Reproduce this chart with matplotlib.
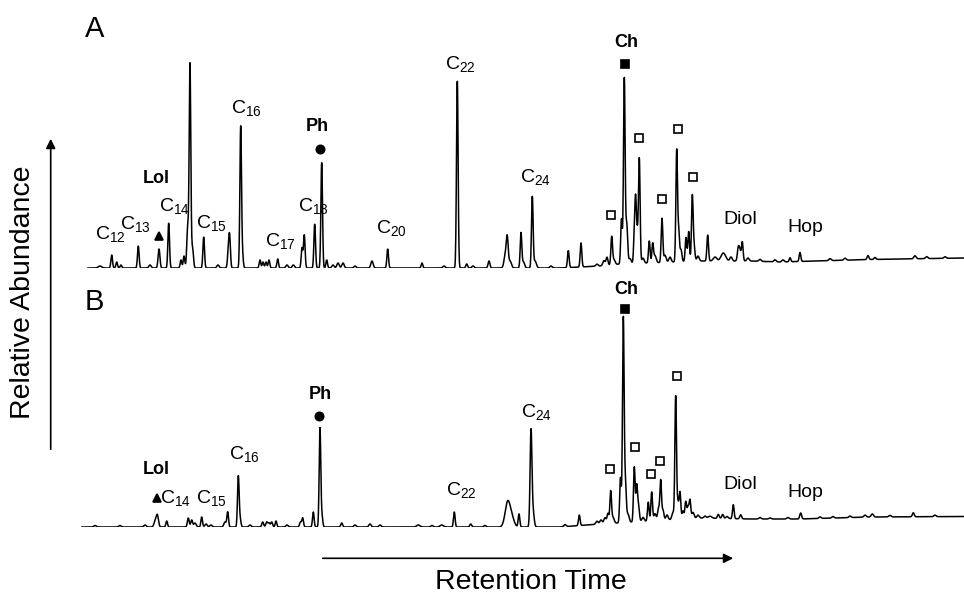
import numpy as np
import matplotlib
matplotlib.use("Agg")
import matplotlib.pyplot as plt

plt.rcParams['font.family'] = ['Liberation Sans', 'DejaVu Sans']

# chromatogram A: peak retention (a.u.), height, width
a_rt = [100, 111.7, 116.7, 121, 138.3, 150, 159, 168.7, 181, 184, 187.7, 190, 192.5,
        203.7, 218, 228.5, 229.7, 240.7, 242.5, 260, 263, 266, 269, 277.7, 287, 293.3,
        302, 304.3, 314.7, 321.7, 326.7, 333, 338, 343, 355, 372, 387.7, 422, 444,
        457.3, 466.7, 473, 489, 505.5, 507.3, 510, 521, 523.5, 532.3, 535, 551, 568.3,
        581, 597, 604, 607, 611.7, 614, 621.5, 624.3, 626.7, 630, 634.5, 635.7, 637.2,
        639.3, 643, 649.3, 652.7, 655, 662, 665, 670, 676.7, 678.7, 681, 686, 688.7,
        692.3, 694, 698, 707.7, 715, 723.3, 731, 738.3, 740, 742.3, 748, 760, 775, 783,
        790, 800, 830, 845, 868, 875, 915, 926.7, 945]
a_h = [2, 13, 6, 3, 22, 3, 19, 45, 8, 12, 40, 203, 20,
       31, 3, 18, 26, 142, 12, 8, 6, 6, 8, 9, 3, 3,
       20, 33, 44, 106, 8, 3, 5, 5, 2, 7, 19, 5, 2,
       188, 4, 2, 7, 14, 26, 7, 35, 6, 71, 7, 2, 17,
       24, 2, 5, 8, 28, 5, 45, 186, 40, 5, 35, 52, 30,
       105, 5, 22, 19, 7, 44, 7, 5, 112, 30, 12, 24, 30,
       64, 15, 5, 26, 4, 8, 4, 13, 10, 19, 3, 2, 2, 2,
       4, 9, 2, 2, 4, 2, 3, 2, 1.5]
a_w = [1.5, 0.7, 0.7, 0.7, 0.7, 1, 0.8, 0.7, 0.7, 0.7, 0.8, 0.7, 0.8,
       0.7, 1, 0.8, 0.7, 0.7, 0.7, 0.7, 0.7, 0.7, 0.7, 0.7, 1, 1,
       0.7, 0.7, 0.7, 0.7, 0.7, 1, 1, 1, 1, 1, 0.7, 0.7, 1,
       0.7, 0.8, 1, 0.8, 1.2, 0.8, 1.2, 0.7, 1, 0.7, 1.2, 1, 0.7,
       0.7, 1, 1, 0.8, 0.7, 1, 0.7, 0.7, 0.8, 1, 0.7, 0.6, 0.7,
       0.7, 1, 0.7, 0.7, 1, 0.7, 1, 1, 0.7, 0.7, 0.8, 0.7, 0.7,
       0.7, 0.8, 1, 0.7, 1.5, 2, 1, 0.8, 0.8, 0.7, 1, 1, 1, 1,
       0.7, 0.7, 1, 1, 0.8, 0.8, 1, 1, 1]
a_base_rt = [80, 560, 600, 620, 700, 750, 780, 870, 964]
a_base = [0, 0, 2, 4, 7, 7, 6, 8.5, 10]

# chromatogram B
b_rt = [95, 120, 145, 155, 157.3, 166.7, 188.3, 191.7, 195, 201.7, 206, 211, 225,
        227.7, 238.3, 240, 250, 262.7, 266.7, 269, 271.7, 276, 287, 300.5, 302.7,
        313.3, 320, 322, 341.7, 355, 370, 380, 418.3, 432, 441.7, 454.3, 470.7, 485,
        507.7, 512, 519, 531, 533, 565, 579.3, 597, 601, 605, 608, 610.7, 613, 620.5,
        623.3, 625.3, 628, 634.3, 636.7, 638.5, 643, 648.3, 651.7, 655, 658.5, 660.7,
        663, 667, 673, 675.7, 678, 680, 683, 685.7, 688, 690, 693, 698, 705, 710,
        718.3, 722.7, 727, 733.3, 740.7, 760, 770, 788, 800.7, 820, 833, 850, 865,
        872.3, 890, 913.3, 935]
b_h = [1.5, 1.5, 2, 5, 12, 6, 9, 7, 4, 10, 3, 2, 5,
       15, 50, 8, 2, 5, 5, 4, 5, 6, 2, 5, 9,
       15, 99, 10, 4, 2, 3, 2, 2, 1.5, 2, 15, 3, 1.5,
       25, 8, 13, 95, 15, 2, 10.5, 3, 4, 6, 10, 32, 6, 45,
       203, 40, 8, 55, 35, 16, 4, 19, 29, 7, 12, 40,
       10, 5, 7, 124, 16, 27, 8, 17, 12, 18, 6, 3, 2, 2,
       4, 4, 2, 14, 4, 1.5, 1, 1.5, 6, 1.5, 1.5, 1.5, 2,
       3, 1.5, 4, 1.5]
b_w = [1, 1, 1, 1, 1, 0.7, 0.8, 0.8, 1, 0.7, 1, 1, 1,
       0.7, 0.7, 0.8, 1, 0.8, 0.8, 0.8, 0.8, 0.7, 1, 0.8, 0.7,
       0.7, 0.7, 0.7, 0.8, 1, 1, 1, 1.5, 1, 1.5, 0.7, 0.8, 1,
       2.2, 2, 0.7, 0.8, 1, 1, 0.7, 1, 1, 1, 0.8, 0.7, 1, 0.7,
       0.7, 0.8, 1, 0.7, 0.7, 0.8, 1, 0.7, 0.7, 1, 0.8, 0.7,
       0.8, 1, 1, 0.7, 0.7, 0.7, 0.8, 0.7, 0.8, 0.7, 1, 1, 1, 1.5,
       0.8, 0.8, 1, 0.7, 0.8, 1, 1, 1, 0.8, 1, 1, 1, 1,
       1, 1, 0.8, 1]
b_base_rt = [80, 560, 600, 650, 700, 750, 800, 870, 964]
b_base = [0, 0, 3, 6, 9, 8, 8, 10, 10.5]

# labels: text, x, y (pixel-like units from the top), bold
a_labels = [(r'$\mathregular{C_{12}}$', 95, 239, False),
            (r'$\mathregular{C_{13}}$', 120, 229, False),
            ('Lol', 143, 183, True),
            (r'$\mathregular{C_{14}}$', 159, 211, False),
            (r'$\mathregular{C_{15}}$', 196, 228, False),
            (r'$\mathregular{C_{16}}$', 231, 112.5, False),
            ('Ph', 306, 131, True),
            (r'$\mathregular{C_{17}}$', 265, 246, False),
            (r'$\mathregular{C_{18}}$', 298, 211, False),
            (r'$\mathregular{C_{20}}$', 376, 232.5, False),
            (r'$\mathregular{C_{22}}$', 445, 69, False),
            (r'$\mathregular{C_{24}}$', 520, 182, False),
            ('Ch', 614, 47.3, True),
            ('Diol', 723, 224, False),
            ('Hop', 787, 232.5, False)]
b_labels = [('Lol', 143, 474, True),
            (r'$\mathregular{C_{14}}$', 160, 503, False),
            (r'$\mathregular{C_{15}}$', 196, 503, False),
            (r'$\mathregular{C_{16}}$', 229, 459, False),
            ('Ph', 309, 399, True),
            (r'$\mathregular{C_{22}}$', 446, 495, False),
            (r'$\mathregular{C_{24}}$', 521, 416.7, False),
            ('Ch', 614, 294, True),
            ('Diol', 723, 489, False),
            ('Hop', 787, 496.7, False)]

# compound markers: (x, y) for each class
a_tri = [(158.7, 236)]
a_dot = [(320, 149)]
a_sq = [(625, 64)]
a_osq = [(611, 215), (639, 137.7), (661.7, 199), (677.7, 129.3), (692.7, 176.7)]
b_tri = [(157.3, 498.3)]
b_dot = [(319.3, 415.7)]
b_sq = [(625, 309)]
b_osq = [(610.3, 469.3), (635, 446.7), (651, 474), (660, 460.7), (676.7, 376)]


def trace(x, rt, h, w, base_rt, base):
    y = np.interp(x, base_rt, base)
    for r, hh, ww in zip(rt, h, w):
        y = y + hh * np.exp(-0.5 * ((x - r) / (ww * 1.15)) ** 2)
    return y


W, H = 964, 597
fig = plt.figure(figsize=(9.64, 5.97), dpi=100)


def panel(base_px, x0, rt, h, w, brt, bb, labels, tri, dot, sq, osq):
    ax = fig.add_axes([0, (H - base_px) / H, 1, 260 / H])
    ax.set_xlim(0, W)
    ax.set_ylim(0, 260)
    ax.axis('off')
    x = np.arange(x0, W, 0.2)
    ax.plot(x, trace(x, rt, h, w, brt, bb), color='black', lw=1.1)
    for txt, lx, ly, bold in labels:
        ax.text(lx, base_px - ly, txt, ha='left', va='baseline',
                fontsize=13 if bold else 14,
                fontweight='bold' if bold else 'normal', clip_on=False)
    for pts, m, ms, fc in [(tri, '^', 6, 'black'), (dot, 'o', 6, 'black'),
                           (sq, 's', 5.3, 'black'), (osq, 's', 5.3, 'white')]:
        px = [p[0] for p in pts]
        py = [base_px - p[1] for p in pts]
        ax.plot(px, py, ls='none', marker=m, ms=ms, mfc=fc, mec='black',
                mew=1.2, clip_on=False)
    return ax


panel(268, 88, a_rt, a_h, a_w, a_base_rt, a_base, a_labels, a_tri, a_dot, a_sq, a_osq)
panel(527, 82, b_rt, b_h, b_w, b_base_rt, b_base, b_labels, b_tri, b_dot, b_sq, b_osq)

# overlay for panel letters and axis arrows
ov = fig.add_axes([0, 0, 1, 1])
ov.set_xlim(0, W)
ov.set_ylim(H, 0)
ov.axis('off')
ov.text(85, 36.7, 'A', fontsize=21, ha='left', va='baseline')
ov.text(85, 310, 'B', fontsize=21, ha='left', va='baseline')
ov.annotate('', xy=(50.7, 136), xytext=(50.7, 452),
            arrowprops=dict(arrowstyle='-|>', lw=1.2, color='black', mutation_scale=14))
ov.annotate('', xy=(736, 558.3), xytext=(320, 558.3),
            arrowprops=dict(arrowstyle='-|>', lw=1.2, color='black', mutation_scale=14))
ov.text(23.3, 292, 'Relative Abundance', fontsize=20.5, rotation=90,
        ha='center', va='center')
ov.text(531, 582, 'Retention Time', fontsize=20.5, ha='center', va='center')

fig.savefig('out.png', dpi=100)
